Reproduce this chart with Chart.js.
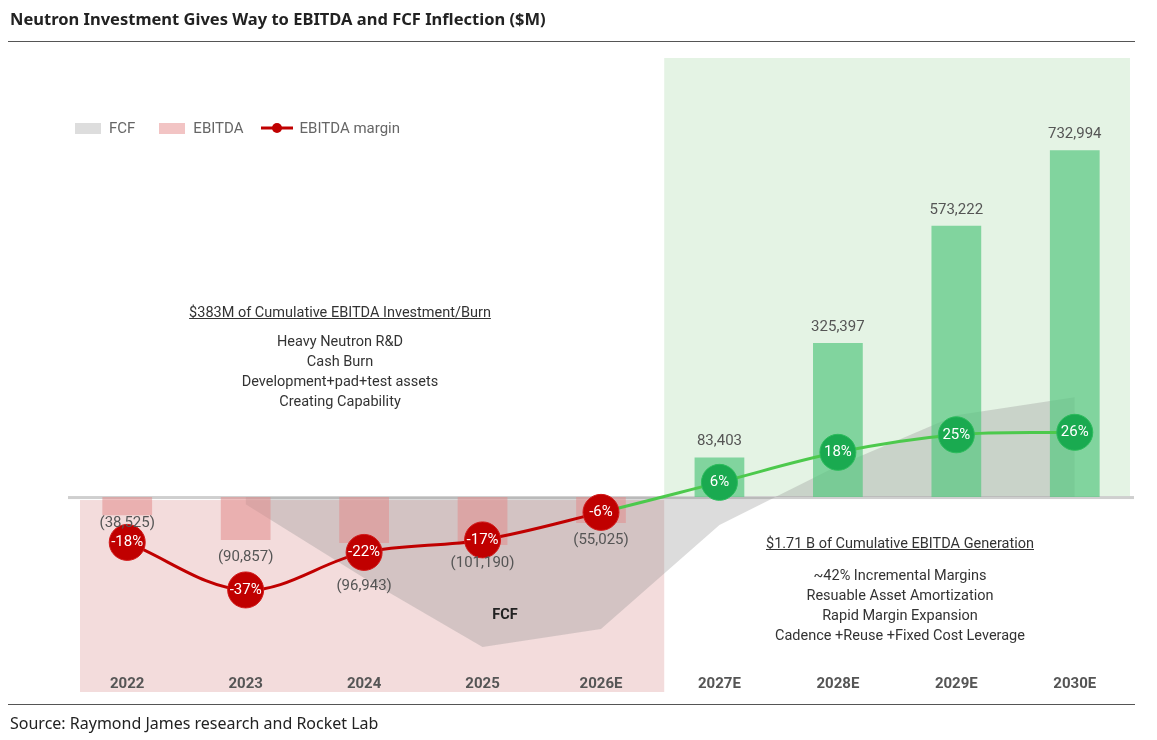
<!DOCTYPE html>
<html>
<head>
<meta charset="utf-8">
<script src="https://cdn.jsdelivr.net/npm/chart.js@4.4.1/dist/chart.umd.min.js"></script>
<style>
  body { margin: 0; background: #fff; font-family: Roboto, "Open Sans", sans-serif; }
  #wrap { position: absolute; left: 0; top: 0; width: 1157px; height: 740px; }
  .txt { position: absolute; color: #333; font-size: 14.5px; text-align: center; line-height: 20px; }
  .title { position: absolute; left: 10px; top: 7px; font-weight: bold; font-size: 16.5px; color: #222; font-family: "Noto Sans", sans-serif; }
  .rule { position: absolute; left: 8px; width: 1127px; height: 1px; background: #555; }
  .legend { position: absolute; top: 119px; left: 75px; font-size: 15px; color: #666; display: flex; align-items: center; }
  .sw { display: inline-block; width: 26px; height: 11px; margin-right: 8px; }
</style>
</head>
<body>
<div id="wrap"><canvas id="chart" width="1157" height="740"></canvas></div>
<div class="title">Neutron Investment Gives Way to EBITDA and FCF Inflection ($M)</div>
<div class="rule" style="top:41px"></div>
<div class="rule" style="top:704px"></div>
<div class="title" style="top:712px;font-weight:normal;font-size:16px">Source: Raymond James research and Rocket Lab</div>
<div class="legend">
  <span class="sw" style="background:#ddd"></span><span style="margin-right:24px">FCF</span>
  <span class="sw" style="background:#f2c4c4"></span><span style="margin-right:16px">EBITDA</span>
  <svg width="34" height="12" style="margin-right:6px"><line x1="1" y1="6" x2="33" y2="6" stroke="#c00000" stroke-width="3"/><circle cx="17" cy="6" r="5" fill="#c00000"/></svg><span>EBITDA margin</span>
</div>
<div class="txt" style="left:140px;top:303px;width:400px"><u>$383M of Cumulative EBITDA Investment/Burn</u></div>
<div class="txt" style="left:140px;top:332px;width:400px">Heavy Neutron R&amp;D<br>Cash Burn<br>Development+pad+test assets<br>Creating Capability</div>
<div class="txt" style="left:700px;top:534px;width:400px"><u>$1.71 B of Cumulative EBITDA Generation</u></div>
<div class="txt" style="left:700px;top:566px;width:400px">~42% Incremental Margins<br>Resuable Asset Amortization<br>Rapid Margin Expansion<br>Cadence +Reuse +Fixed Cost Leverage</div>
<div class="txt" style="left:455px;top:605px;width:100px;font-weight:bold;color:#222">FCF</div>
<script>
const years = ["2022", "2023", "2024", "2025", "2026E", "2027E", "2028E", "2029E", "2030E"];
const ebitda = [-38525, -90857, -96943, -101190, -55025, 83403, 325397, 573222, 732994];
const fcf = [null, -15000, -171000, -317000, -279000, -59000, 66000, 173000, 211000];
const margin = [-18, -37, -22, -17, -6, 6, 18, 25, 26];
const negLabelGap = [8, 17, 43, 18, 17];

const RED = "#c00000", GREEN = "#1aaa50";
const fmt = v => { const s = Math.abs(v).toLocaleString("en-US"); return v < 0 ? "(" + s + ")" : s; };

const backdrop = {
    id: "backdrop",
    beforeDatasetsDraw(chart) {
        const { ctx, chartArea: a, scales: { x, y } } = chart;
        const mid = (x.getPixelForValue(4) + x.getPixelForValue(5)) / 2 + 4;
        const zero = y.getPixelForValue(0);
        ctx.save();
        ctx.fillStyle = "#e4f3e4";
        ctx.fillRect(mid, a.top, a.right - 4 - mid, zero - a.top);
        ctx.fillStyle = "#f3dcdc";
        ctx.fillRect(a.left + 12, zero + 3, mid - a.left - 12, a.bottom + 27 - zero - 3);
        ctx.fillStyle = "#cfcfcf";
        ctx.fillRect(a.left, zero - 1, a.right - a.left, 3);
        ctx.restore();
    },
    afterDatasetsDraw(chart) {
        const { ctx, chartArea: a, scales: { x, y, y1 } } = chart;
        ctx.save();
        ctx.textAlign = "center";
        ctx.textBaseline = "middle";
        years.forEach((yr, i) => {
            const px = x.getPixelForValue(i);
            ctx.font = "bold 15px Roboto";
            ctx.fillStyle = "#555";
            ctx.fillText(yr, px, a.bottom + 19);
            const v = ebitda[i];
            ctx.font = "15px Roboto";
            ctx.fillStyle = "#555";
            if (v >= 0) ctx.fillText(fmt(v), px, y.getPixelForValue(v) - 16);
            else ctx.fillText(fmt(v), px, y.getPixelForValue(v) + negLabelGap[i]);
            ctx.font = "15px Roboto";
            ctx.fillStyle = "#fff";
            ctx.fillText(margin[i] + "%", px, y1.getPixelForValue(margin[i]));
        });
        ctx.restore();
    }
};

new Chart(document.getElementById("chart"), {
    data: {
        labels: years,
        datasets: [
            {
                type: "line",
                label: "EBITDA margin",
                data: margin,
                yAxisID: "y1",
                order: 0,
                borderWidth: 3,
                tension: 0.35,
                borderColor: RED,
                segment: { borderColor: c => c.p1.parsed.y > 0 ? "#4cc94c" : RED },
                pointRadius: 18,
                pointHoverRadius: 18,
                pointBackgroundColor: margin.map(m => m < 0 ? RED : GREEN),
                pointBorderColor: margin.map(m => m < 0 ? "#d21a1a" : "#2cbc5c"),
                pointBorderWidth: 1
            },
            {
                type: "bar",
                label: "EBITDA",
                data: ebitda,
                yAxisID: "y",
                order: 1,
                barPercentage: 0.42,
                categoryPercentage: 1,
                backgroundColor: ebitda.map(v => v < 0 ? "rgba(226,140,140,0.55)" : "rgba(90,200,130,0.72)")
            },
            {
                type: "line",
                label: "FCF",
                data: fcf,
                yAxisID: "y",
                order: 2,
                fill: "origin",
                tension: 0,
                borderWidth: 0,
                pointRadius: 0,
                backgroundColor: "rgba(140,140,140,0.3)"
            }
        ]
    },
    options: {
        responsive: false,
        animation: false,
        layout: { padding: { left: 68, right: 23, top: 58, bottom: 75 } },
        plugins: { legend: { display: false }, tooltip: { enabled: false } },
        scales: {
            x: { display: false, offset: true },
            y: { display: false, min: -355000, max: 928000 },
            y1: { display: false, min: -67, max: 175.6 }
        }
    },
    plugins: [backdrop]
});
</script>
</body>
</html>
